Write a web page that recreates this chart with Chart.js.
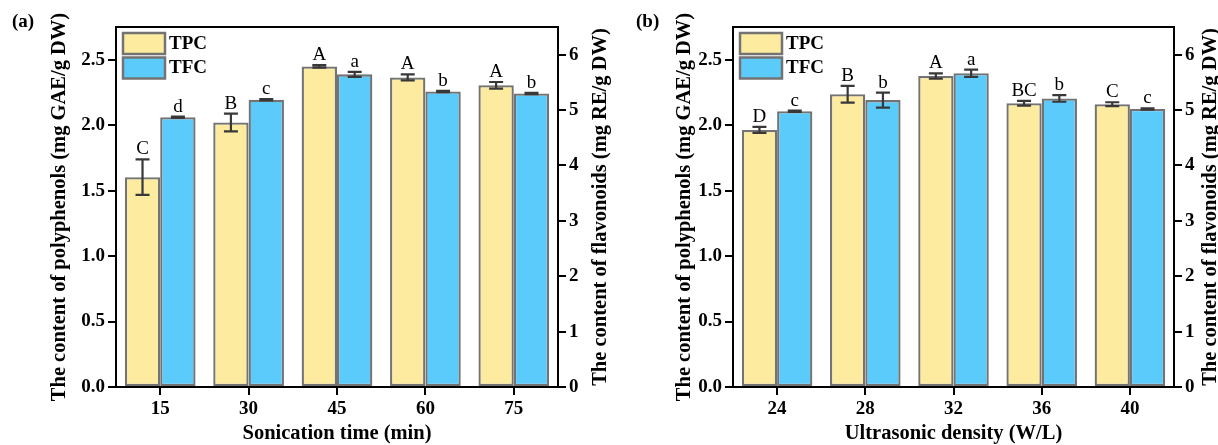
<!DOCTYPE html>
<html>
<head>
<meta charset="utf-8">
<script src="https://cdn.jsdelivr.net/npm/chart.js@4.4.1/dist/chart.umd.min.js"></script>
<style>
  body { margin: 0; background: #fff; }
  #wrap { position: relative; width: 1218px; height: 445px; overflow: hidden; }
  canvas { position: absolute; top: 0; }
  .tag { position: absolute; top: 10px; font: bold 19px 'Liberation Serif', 'Times New Roman', serif; color: #000; }
</style>
</head>
<body>
<div id="wrap">
  <canvas id="chart-a" width="612" height="445" style="left:0"></canvas>
  <canvas id="chart-b" width="606" height="445" style="left:612px"></canvas>
  <span class="tag" style="left:12px">(a)</span>
  <span class="tag" style="left:636px">(b)</span>
</div>
<script>
// two panels: sonication time and ultrasonic density

const serif = "'Liberation Serif', 'Times New Roman', serif";

// panel (a)
const timeLabels = ['15', '30', '45', '60', '75'];
const timeTpc = [1.603, 2.021, 2.449, 2.365, 2.305];
const timeTpcErr = [0.136, 0.068, 0.01, 0.023, 0.025];
const timeTfc = [4.872, 5.187, 5.645, 5.337, 5.30];
const timeTfcErr = [0.012, 0.012, 0.045, 0.012, 0.012];
const timeTpcLetters = ['C', 'B', 'A', 'A', 'A'];
const timeTfcLetters = ['d', 'c', 'a', 'b', 'b'];

// panel (b)
const densityLabels = ['24', '28', '32', '36', '40'];
const densityTpc = [1.964, 2.237, 2.376, 2.168, 2.160];
const densityTpcErr = [0.023, 0.064, 0.02, 0.018, 0.015];
const densityTfc = [4.98, 5.18, 5.665, 5.21, 5.02];
const densityTfcErr = [0.012, 0.136, 0.066, 0.06, 0.012];
const densityTpcLetters = ['D', 'B', 'A', 'BC', 'C'];
const densityTfcLetters = ['c', 'b', 'a', 'b', 'c'];

// axis ticks
const leftMax = 2.75;
const leftStep = 0.5;
const rightMax = 6.5;
const rightStep = 1;

const yellow = '#FDEBA0';
const blue = '#5BCBFC';
const edge = '#737373';
const titleFont = { family: serif, size: 20.5, weight: 'bold', lineHeight: 1.0 };

// error bars, letters, legend, frame and right title
const extrasPlugin = {
    id: 'extras',
    afterDatasetsDraw(chart) {
        const ctx = chart.ctx;
        ctx.save();
        chart.data.datasets.forEach((ds, i) => {
            const meta = chart.getDatasetMeta(i);
            const yScale = chart.scales[ds.yAxisID];
            meta.data.forEach((bar, j) => {
                const v = ds.data[j];
                const e = ds.errors[j];
                const top = yScale.getPixelForValue(v + e);
                const bot = yScale.getPixelForValue(v - e);
                ctx.strokeStyle = '#383838';
                ctx.lineWidth = 2.2;
                ctx.beginPath();
                ctx.moveTo(bar.x, top);
                ctx.lineTo(bar.x, bot);
                ctx.moveTo(bar.x - 7, top);
                ctx.lineTo(bar.x + 7, top);
                ctx.moveTo(bar.x - 7, bot);
                ctx.lineTo(bar.x + 7, bot);
                ctx.stroke();

                ctx.fillStyle = '#000';
                ctx.font = '19px ' + serif;
                ctx.textAlign = 'center';
                ctx.textBaseline = 'alphabetic';
                ctx.fillText(ds.letters[j], bar.x, top - 5);
            });
        });
        ctx.restore();
    },
    afterDraw(chart, args, opts) {
        const ctx = chart.ctx;
        const area = chart.chartArea;
        ctx.save();

        // legend inside the plot, top left
        chart.data.datasets.forEach((ds, i) => {
            const bx = area.left + 7;
            const by = area.top + 6 + i * 24.5;
            ctx.fillStyle = ds.backgroundColor;
            ctx.fillRect(bx, by, 42, 21);
            ctx.strokeStyle = edge;
            ctx.lineWidth = 2.5;
            ctx.strokeRect(bx, by, 42, 21);
            ctx.fillStyle = '#000';
            ctx.font = 'bold 19px ' + serif;
            ctx.textAlign = 'left';
            ctx.textBaseline = 'middle';
            ctx.fillText(ds.label, bx + 46, by + 11);
        });

        ctx.strokeStyle = '#000';
        ctx.lineWidth = 2;
        ctx.strokeRect(area.left, area.top, area.right - area.left, area.bottom - area.top);

        ctx.translate(area.right + opts.titleOffset, (area.top + area.bottom) / 2);
        ctx.rotate(-Math.PI / 2);
        ctx.fillStyle = '#000';
        ctx.font = 'bold 20.5px ' + serif;
        ctx.textAlign = 'center';
        ctx.textBaseline = 'middle';
        ctx.fillText(opts.rightTitle, 0, 0);
        ctx.restore();
    }
};

function makeChart(id, p) {
    const ctx = document.getElementById(id).getContext('2d');
    return new Chart(ctx, {
        type: 'bar',
        data: {
            labels: p.labels,
            datasets: [
                {
                    label: 'TPC',
                    data: p.tpc,
                    errors: p.tpcErr,
                    letters: p.tpcLetters,
                    yAxisID: 'y',
                    backgroundColor: yellow,
                    borderColor: edge,
                    borderWidth: 2.3,
                    borderSkipped: false
                },
                {
                    label: 'TFC',
                    data: p.tfc,
                    errors: p.tfcErr,
                    letters: p.tfcLetters,
                    yAxisID: 'y2',
                    backgroundColor: blue,
                    borderColor: edge,
                    borderWidth: 2.3,
                    borderSkipped: false
                }
            ]
        },
        options: {
            responsive: false,
            animation: false,
            categoryPercentage: 0.8,
            barPercentage: 1.0,
            layout: {
                padding: { left: p.padLeft, top: 27, right: 0, bottom: 0 }
            },
            plugins: {
                legend: { display: false },
                tooltip: { enabled: false },
                extras: { rightTitle: p.rightTitle, titleOffset: p.titleOffset }
            },
            scales: {
                x: {
                    grid: {
                        offset: false,
                        drawOnChartArea: false,
                        color: '#000',
                        lineWidth: 2,
                        tickLength: 8
                    },
                    border: { color: '#000', width: 2 },
                    ticks: {
                        color: '#000',
                        padding: 3,
                        font: { family: serif, size: 19, weight: 'bold' }
                    },
                    title: {
                        display: true,
                        text: p.xTitle,
                        color: '#000',
                        padding: { top: 0, bottom: 1 },
                        font: titleFont
                    },
                    afterFit(scale) { scale.height = 58; }
                },
                y: {
                    position: 'left',
                    min: 0,
                    max: leftMax,
                    grid: {
                        drawOnChartArea: false,
                        color: '#000',
                        lineWidth: 2,
                        tickLength: 8
                    },
                    border: { color: '#000', width: 2 },
                    ticks: {
                        stepSize: leftStep,
                        includeBounds: false,
                        color: '#000',
                        padding: 3,
                        font: { family: serif, size: 19, weight: 'bold' },
                        callback: v => v.toFixed(1)
                    },
                    title: {
                        display: true,
                        text: 'The content of polyphenols (mg GAE/g DW)',
                        color: '#000',
                        padding: { top: 0, bottom: 0 },
                        font: titleFont
                    },
                    afterFit(scale) { scale.width = p.leftWidth; }
                },
                y2: {
                    position: 'right',
                    min: 0,
                    max: rightMax,
                    grid: {
                        drawOnChartArea: false,
                        color: '#000',
                        lineWidth: 2,
                        tickLength: 8
                    },
                    border: { color: '#000', width: 2 },
                    ticks: {
                        stepSize: rightStep,
                        includeBounds: false,
                        color: '#000',
                        padding: 3,
                        font: { family: serif, size: 19, weight: 'bold' }
                    },
                    afterFit(scale) { scale.width = p.rightWidth; }
                }
            }
        },
        plugins: [extrasPlugin]
    });
}

makeChart('chart-a', {
    labels: timeLabels,
    tpc: timeTpc, tpcErr: timeTpcErr, tpcLetters: timeTpcLetters,
    tfc: timeTfc, tfcErr: timeTfcErr, tfcLetters: timeTfcLetters,
    xTitle: 'Sonication time (min)',
    rightTitle: 'The content of flavonoids (mg RE/g DW)',
    padLeft: 49, leftWidth: 67, rightWidth: 54, titleOffset: 43
});

makeChart('chart-b', {
    labels: densityLabels,
    tpc: densityTpc, tpcErr: densityTpcErr, tpcLetters: densityTpcLetters,
    tfc: densityTfc, tfcErr: densityTfcErr, tfcLetters: densityTfcLetters,
    xTitle: 'Ultrasonic density (W/L)',
    rightTitle: 'The content of flavonoids (mg RE/g DW)',
    padLeft: 62, leftWidth: 59, rightWidth: 44, titleOffset: 37
});
</script>
</body>
</html>
